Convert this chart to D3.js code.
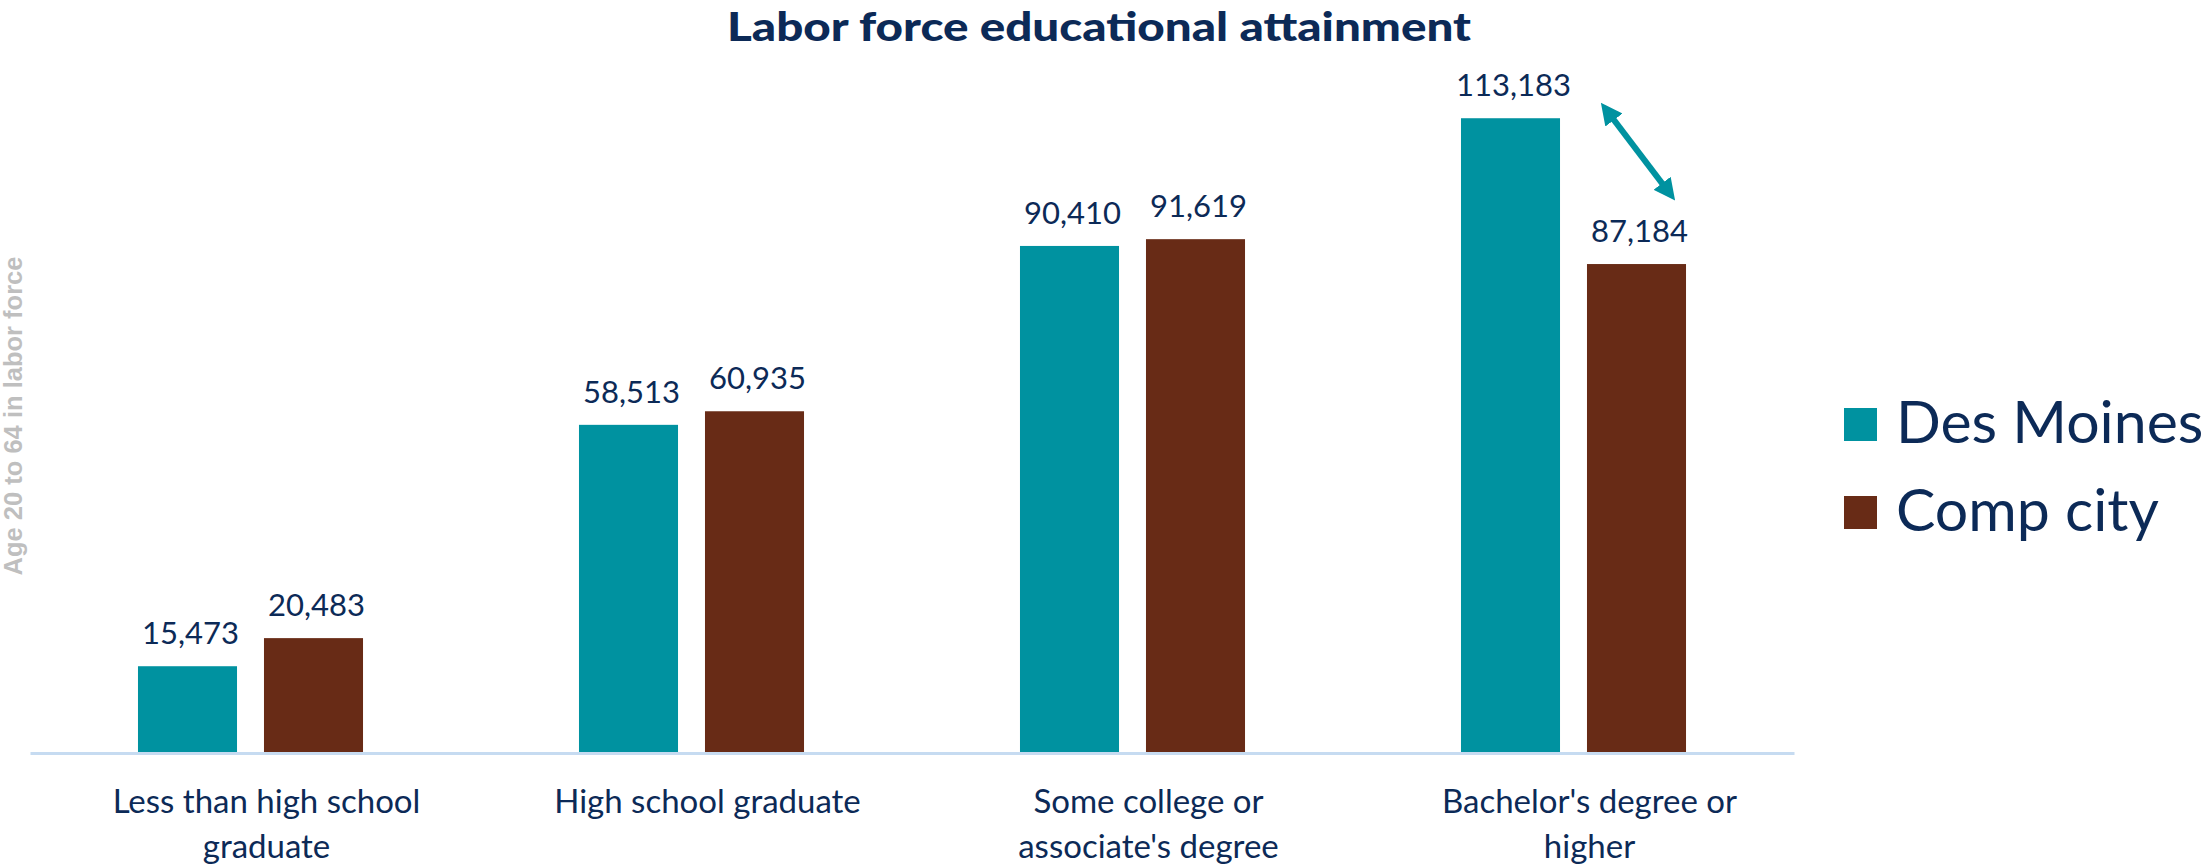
<!DOCTYPE html>
<html>
<head>
<meta charset="utf-8">
<script src="https://cdn.jsdelivr.net/npm/d3@7"></script>
<style>
  html, body { margin: 0; padding: 0; background: #ffffff; }
  svg { display: block; }
</style>
</head>
<body>
<svg id="chart" width="2211" height="868"></svg>
<script>
// ---- data ----
const categories = [
  "Less than high school graduate",
  "High school graduate",
  "Some college or associate's degree",
  "Bachelor's degree or higher"
];
const categoryLines = [
  ["Less than high school", "graduate"],
  ["High school graduate"],
  ["Some college or", "associate's degree"],
  ["Bachelor's degree or", "higher"]
];
const seriesNames = ["Des Moines", "Comp city"];
const desMoines = [15473, 58513, 90410, 113183];
const compCity = [20483, 60935, 91619, 87184];
const titleText = "Labor force educational attainment";
const yAxisTitle = "Age 20 to 64 in labor force";
const yDomain = [0, 120000];

// ---- styles ----
const colors = { "Des Moines": "#0092A0", "Comp city": "#682B16" };
const navy = "#0C2A57";
const font = "Lato, 'Open Sans', sans-serif";

const svg = d3.select("#chart");

const x0 = d3.scaleBand().domain(categories).range([30, 1794]).paddingInner(0).paddingOuter(0);
const x1 = d3.scaleBand().domain(seriesNames).range([0, x0.bandwidth()]).paddingInner(0.214).paddingOuter(0.857);
const y = d3.scaleLinear().domain(yDomain).range([753, 80]);

const rows = categories.map((c, i) => ({ cat: c, values: [
  { s: "Des Moines", v: desMoines[i] },
  { s: "Comp city", v: compCity[i] }
]}));

// title
svg.append("text")
  .attr("x", 1099).attr("y", 41)
  .attr("text-anchor", "middle")
  .attr("font-family", font)
  .attr("font-weight", 900)
  .attr("font-size", 40)
  .attr("fill", navy)
  .attr("textLength", 744)
  .attr("lengthAdjust", "spacingAndGlyphs")
  .text(titleText);

// y axis title
svg.append("text")
  .attr("transform", "translate(22,416) rotate(-90)")
  .attr("text-anchor", "middle")
  .attr("font-family", "'Liberation Sans', Arial, sans-serif")
  .attr("font-weight", "bold")
  .attr("font-size", 25.5)
  .attr("fill", "#BFBFBF")
  .text(yAxisTitle);

// bars
const groups = svg.append("g").selectAll("g").data(rows).join("g")
  .attr("transform", d => `translate(${x0(d.cat)},0)`);

groups.selectAll("rect").data(d => d.values).join("rect")
  .attr("x", d => x1(d.s))
  .attr("y", d => y(d.v))
  .attr("width", x1.bandwidth())
  .attr("height", d => y(0) - y(d.v))
  .attr("fill", d => colors[d.s]);

groups.selectAll("text.val").data(d => d.values).join("text")
  .attr("class", "val")
  .attr("x", d => x1(d.s) + x1.bandwidth() / 2 + 3)
  .attr("y", d => y(d.v) - 22)
  .attr("text-anchor", "middle")
  .attr("font-family", font)
  .attr("font-size", 31)
  .attr("fill", navy)
  .text(d => d3.format(",")(d.v));

// x axis
const xAxis = d3.axisBottom(x0).tickSize(0).tickFormat("");
const ax = svg.append("g").attr("transform", `translate(0,${y(0)})`).call(xAxis);
ax.select(".domain").attr("stroke", "#C6DBF1").attr("stroke-width", 3);

// category labels
categories.forEach((c, i) => {
  const cx = x0(c) + x0.bandwidth() / 2 + 16;
  const t = svg.append("text")
    .attr("x", cx)
    .attr("y", 813)
    .attr("text-anchor", "middle")
    .attr("font-family", font)
    .attr("font-size", 33)
    .attr("fill", navy);
  categoryLines[i].forEach((line, j) => {
    t.append("tspan")
      .attr("x", cx)
      .attr("dy", j === 0 ? 0 : 45)
      .text(line);
  });
});

// legend
const legend = svg.append("g");
seriesNames.forEach((s, i) => {
  legend.append("rect")
    .attr("x", 1844).attr("y", 408 + i * 88)
    .attr("width", 33).attr("height", 33)
    .attr("fill", colors[s]);
  legend.append("text")
    .attr("x", 1896).attr("y", 443 + i * 88)
    .attr("font-family", font)
    .attr("font-size", 59)
    .attr("fill", navy)
    .text(s);
});

// double-headed arrow annotation
const defs = svg.append("defs");
["start", "end"].forEach(k => {
  defs.append("marker")
    .attr("id", "arrow-" + k)
    .attr("viewBox", "0 0 10 10")
    .attr("refX", 5).attr("refY", 5)
    .attr("markerWidth", 3.6).attr("markerHeight", 3.6)
    .attr("markerUnits", "strokeWidth")
    .attr("orient", k === "start" ? "auto-start-reverse" : "auto")
    .append("path").attr("d", "M0,0 L10,5 L0,10 z").attr("fill", "#0092A0");
});
const lastCat = categories[3];
const bx = x0(lastCat) + x1("Comp city");
const ax1 = bx + 15, ay1 = y(desMoines[3]) - 14;
const ax2 = bx + x1.bandwidth() - 12, ay2 = y(compCity[3]) - 65;
const dx = ax2 - ax1, dy = ay2 - ay1, len = Math.hypot(dx, dy), off = 9;
svg.append("line")
  .attr("x1", ax1 + dx / len * off).attr("y1", ay1 + dy / len * off)
  .attr("x2", ax2 - dx / len * off).attr("y2", ay2 - dy / len * off)
  .attr("stroke", "#0092A0").attr("stroke-width", 6)
  .attr("marker-start", "url(#arrow-start)")
  .attr("marker-end", "url(#arrow-end)");
</script>
</body>
</html>
